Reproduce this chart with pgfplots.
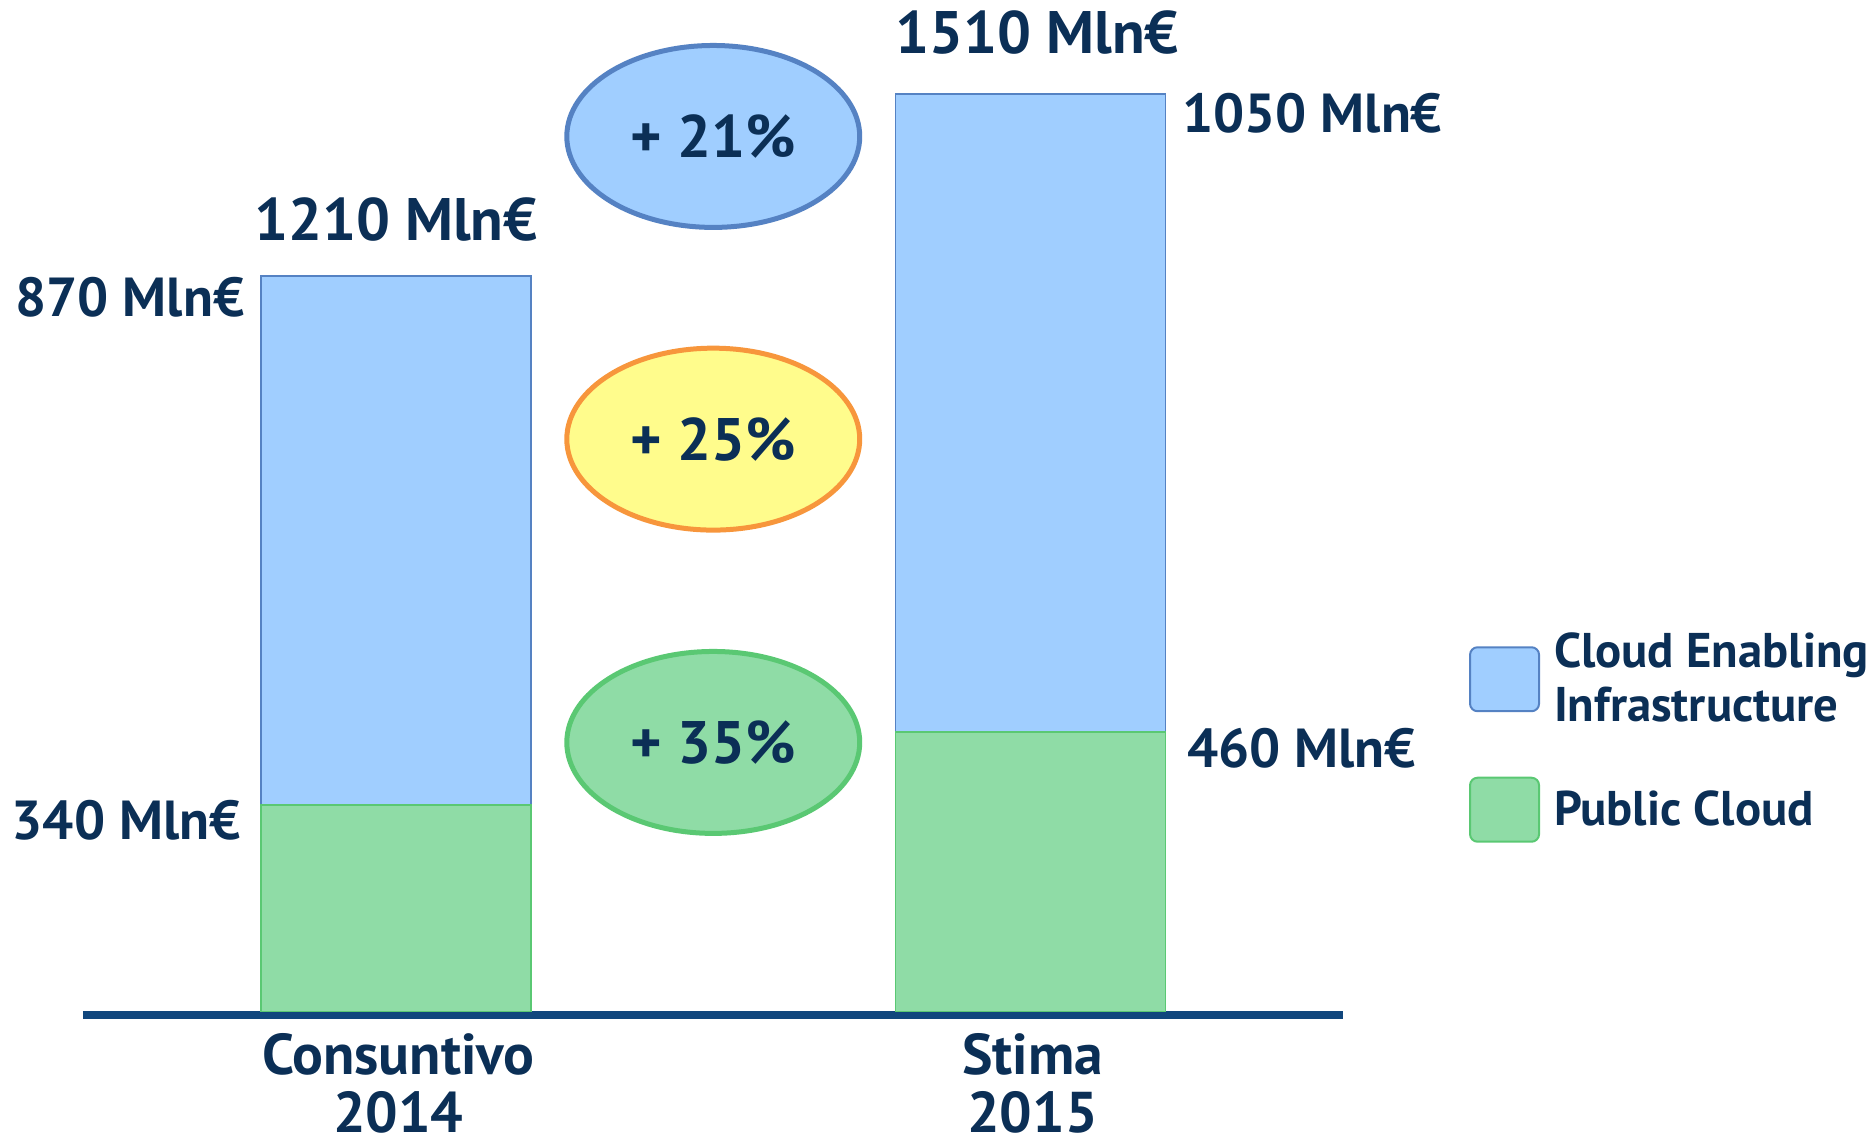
\documentclass[border=0pt]{standalone}
\usepackage{fontspec}
\setmainfont{PT Sans}
\usepackage{pgfplots}
\pgfplotsset{compat=1.18}
\usetikzlibrary{shapes.geometric}

\definecolor{navy}{HTML}{0B2F56}
\definecolor{axisblue}{HTML}{10467D}
\definecolor{cefill}{HTML}{A0CEFF}
\definecolor{celine}{HTML}{5582C3}
\definecolor{pcfill}{HTML}{8FDCA6}
\definecolor{pcline}{HTML}{5AC873}
\definecolor{yelfill}{HTML}{FFFC8C}
\definecolor{orline}{HTML}{F7963C}

\begin{document}
\begin{tikzpicture}[
    tot/.style={font=\bfseries\fontsize{24}{26}\selectfont, text=navy, inner sep=0pt},
    lab/.style={font=\bfseries\fontsize{22}{24}\selectfont, text=navy, inner sep=0pt},
    cat/.style={font=\bfseries\fontsize{23}{25}\selectfont, text=navy, inner sep=0pt},
    bubble/.style={ellipse, line width=2pt, minimum width=117.2pt, minimum height=72.8pt,
        inner sep=0pt, font=\bfseries\fontsize{24}{26}\selectfont, text=navy},
]
\begin{axis}[
    width=747.6pt, height=456pt, scale only axis,
    xmin=-0.6236, xmax=2.3197,
    ymin=-210.5, ymax=1664.5,
    hide axis, clip=false,
    ybar stacked, bar width=108pt,
    every axis plot post/.append style={
        legend image code/.code={
            \draw[##1, line width=0.8pt, rounded corners=3pt] (0pt,-12.8pt) rectangle (27.6pt,12.8pt);}},
    reverse legend,
    legend style={
        at={(axis description cs:0.786,0.445)}, anchor=north west,
        draw=none, fill=none, inner sep=0pt,
        font=\bfseries\fontsize{19.5}{21.6}\selectfont, text=navy,
        row sep=20.5pt, column sep=5.6pt,
        cells={anchor=west},
        nodes={inner sep=0pt, align=left},
    },
]
    % Public Cloud
    \addplot[fill=pcfill, draw=pcline, line width=0.6pt]
        coordinates {(0,340) (1,460)};
    \addlegendentry{Public Cloud}
    % Cloud Enabling Infrastructure
    \addplot[fill=cefill, draw=celine, line width=0.6pt]
        coordinates {(0,870) (1,1050)};
    \addlegendentry{Cloud Enabling\\Infrastructure}

    \path (rel axis cs:0,0) rectangle (rel axis cs:1,1);

    % baseline
    \draw[axisblue, line width=3pt] (axis cs:-0.4929,-5.8) -- (axis cs:1.4913,-5.8);

    % growth bubbles
    \node[bubble, draw=celine, fill=cefill] at (axis cs:0.5,1440) {+ 21\%};
    \node[bubble, draw=orline, fill=yelfill] at (axis cs:0.5,942) {+ 25\%};
    \node[bubble, draw=pcline, fill=pcfill] at (axis cs:0.5,443) {+ 35\%};

    % value labels
    \node[tot, anchor=base] at (axis cs:0.0,1268) {1210 Mln€};
    \node[lab, anchor=base east] at (axis cs:-0.238,1143) {870 Mln€};
    \node[lab, anchor=base east] at (axis cs:-0.244,283) {340 Mln€};
    \node[tot, anchor=base west] at (axis cs:0.786,1576) {1510 Mln€};
    \node[lab, anchor=base west] at (axis cs:1.238,1447) {1050 Mln€};
    \node[lab, anchor=base west] at (axis cs:1.2457,401) {460 Mln€};

    % category labels
    \node[cat, anchor=base] at (axis cs:0.004,-104) {Consuntivo};
    \node[cat, anchor=base] at (axis cs:0.004,-198) {2014};
    \node[cat, anchor=base] at (axis cs:1.003,-104) {Stima};
    \node[cat, anchor=base] at (axis cs:1.003,-198) {2015};
\end{axis}
\end{tikzpicture}
\end{document}
